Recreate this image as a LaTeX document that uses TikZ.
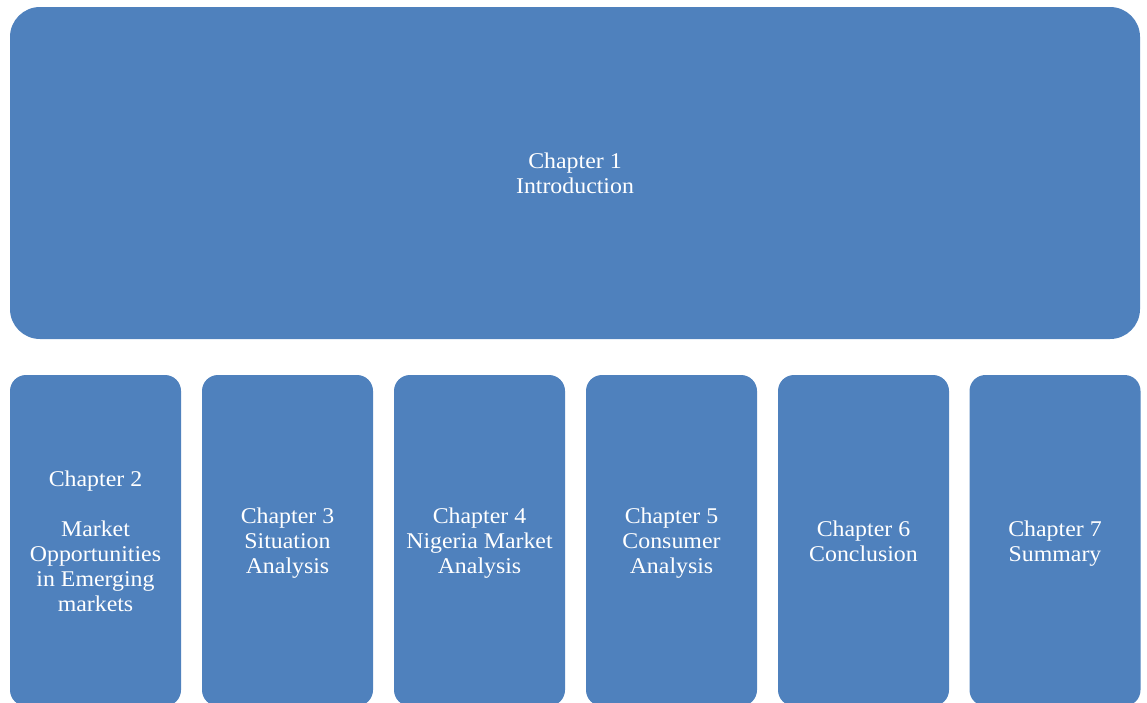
\documentclass[tikz,border=0pt]{standalone}
\usepackage{fontspec}
\setmainfont[FakeStretch=1.06]{Liberation Serif}
\definecolor{boxblue}{HTML}{4F81BD}
\begin{document}
\begin{tikzpicture}[x=1pt,y=-1pt,
  chapterbox/.style={fill=boxblue, draw=none, inner sep=0pt},
  topbox/.style={chapterbox, rounded corners=30pt, minimum width=1130pt, minimum height=332pt},
  subbox/.style={chapterbox, rounded corners=16pt, minimum width=171pt, minimum height=331pt},
  chaptertext/.style={text=white, inner sep=0pt, align=center,
    font=\fontsize{22.5}{25}\selectfont,
    execute at begin node=\strut, execute at end node=\strut}]
  \useasboundingbox (0,0) rectangle (1147,702);
  \clip (0,0) rectangle (1147,702);
  % boxes
  \node[topbox] (ch1box) at (575,173) {};
  \node[subbox] (ch2box) at (95.5,540.5) {};
  \node[subbox] (ch3box) at (287.5,540.5) {};
  \node[subbox] (ch4box) at (479.5,540.5) {};
  \node[subbox] (ch5box) at (671.5,540.5) {};
  \node[subbox] (ch6box) at (863.5,540.5) {};
  \node[subbox] (ch7box) at (1055,540.5) {};
  % titles, set a little below each box centre
  \node[chaptertext] (ch1) at ([yshift=-4pt]ch1box.center) {Chapter 1\\Introduction};
  \node[chaptertext] (ch2) at ([yshift=-4pt]ch2box.center) {Chapter 2\\[25pt]Market\\Opportunities\\in Emerging\\markets};
  \node[chaptertext] (ch3) at ([yshift=-4pt]ch3box.center) {Chapter 3\\Situation\\Analysis};
  \node[chaptertext] (ch4) at ([yshift=-4pt]ch4box.center) {Chapter 4\\Nigeria Market\\Analysis};
  \node[chaptertext] (ch5) at ([yshift=-4pt]ch5box.center) {Chapter 5\\Consumer\\Analysis};
  \node[chaptertext] (ch6) at ([yshift=-4pt]ch6box.center) {Chapter 6\\Conclusion};
  \node[chaptertext] (ch7) at ([yshift=-4pt]ch7box.center) {Chapter 7\\Summary};
\end{tikzpicture}
\end{document}
